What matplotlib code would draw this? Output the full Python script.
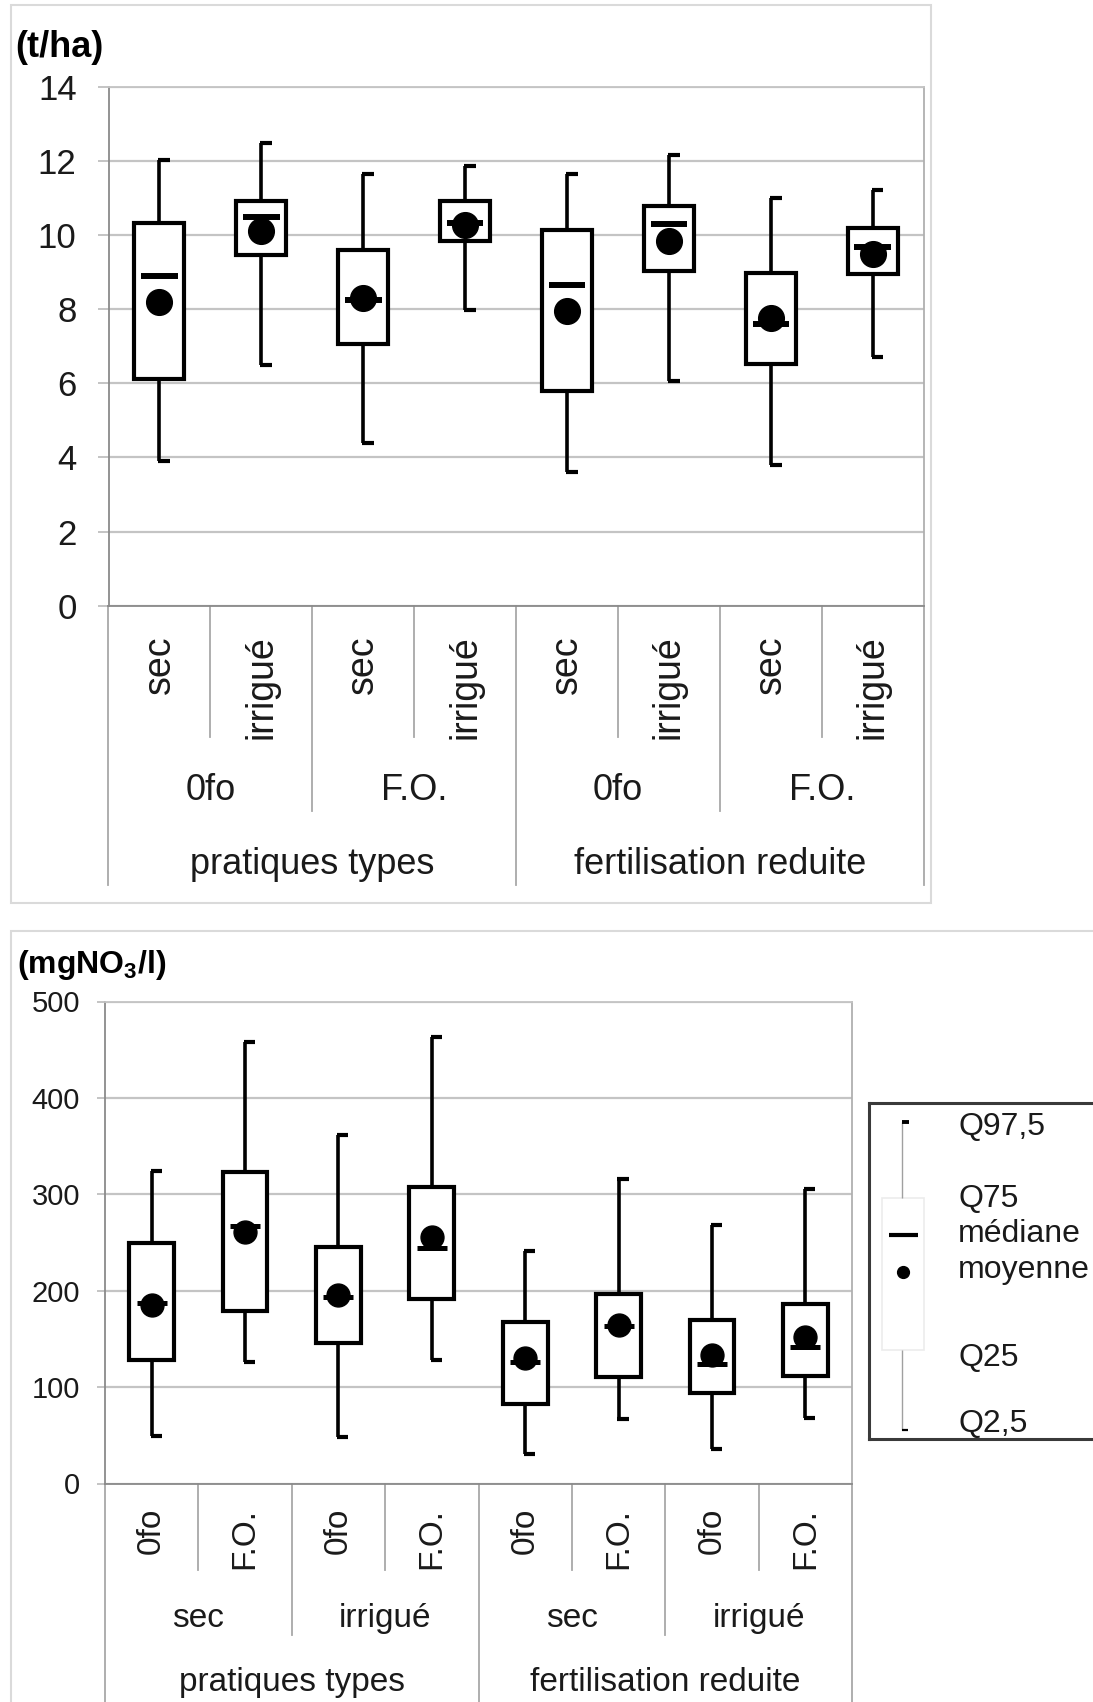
import matplotlib
matplotlib.use("Agg")
import matplotlib.pyplot as plt
from matplotlib import transforms
from matplotlib.patches import Rectangle

plt.rcParams['font.family'] = ['Liberation Sans', 'DejaVu Sans']
plt.rcParams['mathtext.default'] = 'regular'

# ---------------- data: yield (t/ha) ----------------
top_lvl1 = ["sec", "irrigué", "sec", "irrigué", "sec", "irrigué", "sec", "irrigué"]
top_lvl2 = ["0fo", "F.O.", "0fo", "F.O."]
top_lvl3 = ["pratiques types", "fertilisation reduite"]
top_q975 = [12.03, 12.48, 11.65, 11.87, 11.64, 12.15, 11.01, 11.22]
top_q75 = [10.32, 10.91, 9.59, 10.93, 10.13, 10.79, 8.97, 10.19]
top_med = [8.90, 10.48, 8.25, 10.33, 8.66, 10.29, 7.60, 9.68]
top_mean = [8.19, 10.10, 8.31, 10.27, 7.96, 9.84, 7.77, 9.49]
top_q25 = [6.12, 9.46, 7.06, 9.83, 5.79, 9.04, 6.52, 8.95]
top_q025 = [3.90, 6.50, 4.38, 7.97, 3.61, 6.05, 3.79, 6.71]
top_yticks = [0, 2, 4, 6, 8, 10, 12, 14]

# ---------------- data: nitrate (mgNO3/l) ----------------
bot_lvl1 = ["0fo", "F.O.", "0fo", "F.O.", "0fo", "F.O.", "0fo", "F.O."]
bot_lvl2 = ["sec", "irrigué", "sec", "irrigué"]
bot_lvl3 = ["pratiques types", "fertilisation reduite"]
bot_q975 = [324, 458, 362, 463, 241, 316, 268, 306]
bot_q75 = [249, 323, 245, 308, 168, 197, 170, 186]
bot_med = [187, 267, 193, 244, 126, 163, 124, 142]
bot_mean = [185, 261, 196, 256, 130, 164, 133, 152]
bot_q25 = [128, 179, 146, 191, 82, 110, 94, 111]
bot_q025 = [49, 126, 48, 128, 31, 67, 36, 68]
bot_yticks = [0, 100, 200, 300, 400, 500]

legend_labels = ["Q97,5", "Q75", "médiane", "moyenne", "Q25", "Q2,5"]

W, H = 1093, 1702
fig = plt.figure(figsize=(W / 100, H / 100), dpi=100)
fig.patch.set_facecolor("white")


def fx(px):
    return px / W


def fy(py):
    return 1 - py / H


GRID = "#c4c4c4"
AXC = "#8a8a8a"
SEP = "#a8a8a8"

# outer light frames
fig.add_artist(Rectangle((fx(11), fy(903)), fx(931) - fx(11), fy(5) - fy(903),
                         transform=fig.transFigure, fill=False, ec="#dadada", lw=1.5))
fig.add_artist(Rectangle((fx(11), fy(1720)), fx(1110) - fx(11), fy(931) - fy(1720),
                         transform=fig.transFigure, fill=False, ec="#dadada", lw=1.5))


def draw_panel(ax, q975, q75, med, mean, q25, q025, yticks, boxw, medw, capw,
               ms, medlw, tickfs, ticklen, tickpad):
    n = len(q75)
    xs = list(range(n))
    ax.set_xlim(-0.5, n - 0.5)
    ax.set_ylim(yticks[0], yticks[-1])
    ax.set_yticks(yticks)
    ax.set_xticks([])
    ax.yaxis.grid(True, color=GRID, lw=1.6)
    ax.set_axisbelow(True)
    for s in ax.spines.values():
        s.set_color(AXC)
        s.set_linewidth(1.3)
    ax.spines['top'].set_color(GRID)
    ax.spines['right'].set_color("#b0b0b0")
    ax.tick_params(axis='y', direction='out', length=ticklen, width=1.4,
                   color=GRID, labelsize=tickfs, pad=tickpad, labelcolor="#1a1a1a")
    for i in xs:
        ax.add_patch(Rectangle((i - boxw / 2, q25[i]), boxw, q75[i] - q25[i],
                               fill=True, fc="white", ec="black", lw=3.0, zorder=3))
        ax.vlines(i, q75[i], q975[i], color="black", lw=2.6, zorder=2)
        ax.vlines(i, q025[i], q25[i], color="black", lw=2.6, zorder=2)
        ax.hlines([q975[i], q025[i]], i - 0.012, i + capw, color="black", lw=3.0, zorder=2)
    ax.plot(xs, mean, 'o', color="black", ms=ms, mec="black", zorder=4, ls='none')
    ax.hlines(med, [x - medw / 2 for x in xs], [x + medw / 2 for x in xs],
              color="black", lw=medlw, zorder=5)


def draw_categories(ax, lvl1, lvl2, lvl3, y_lvl1_top, y_inner, y_group, y_outer,
                    y_lvl2_base, y_lvl3_base, fs1, fs2):
    tr = transforms.blended_transform_factory(ax.transData, fig.transFigure)
    n = len(lvl1)
    y_axis = ax.get_position().y0
    for i, lab in enumerate(lvl1):
        ax.text(i, fy(y_lvl1_top), lab, transform=tr, rotation=90, ha='center', va='top',
                fontsize=fs1, color="#1a1a1a")
    for j, lab in enumerate(lvl2):
        ax.text(2 * j + 0.5, fy(y_lvl2_base), lab, transform=tr, ha='center', va='baseline',
                fontsize=fs2, color="#1a1a1a")
    for k, lab in enumerate(lvl3):
        ax.text(4 * k + 1.5, fy(y_lvl3_base), lab, transform=tr, ha='center', va='baseline',
                fontsize=fs2, color="#1a1a1a")
    for b in range(n + 1):
        x = b - 0.5
        if b % 4 == 0:
            yb = y_outer
        elif b % 2 == 0:
            yb = y_group
        else:
            yb = y_inner
        ax.plot([x, x], [y_axis, fy(yb)], transform=tr, color=SEP, lw=1.3, clip_on=False)


# ---------------- top panel ----------------
ax1 = fig.add_axes([fx(108.5), fy(605.7), fx(923.7) - fx(108.5), (605.7 - 86.8) / H])
draw_panel(ax1, top_q975, top_q75, top_med, top_mean, top_q25, top_q025, top_yticks,
           boxw=0.49, medw=0.36, capw=0.105, ms=18.5, medlw=4.3, tickfs=25,
           ticklen=8, tickpad=15)
draw_categories(ax1, top_lvl1, top_lvl2, top_lvl3, 635, 737, 811, 885, 800, 874, 27, 26)
fig.text(fx(15), fy(57), "(t/ha)", fontsize=26, fontweight='bold', ha='left', va='baseline')

# ---------------- bottom panel ----------------
ax2 = fig.add_axes([fx(105), fy(1483.5), fx(852) - fx(105), (1483.5 - 1001.5) / H])
draw_panel(ax2, bot_q975, bot_q75, bot_med, bot_mean, bot_q25, bot_q025, bot_yticks,
           boxw=0.48, medw=0.32, capw=0.107, ms=16.5, medlw=3.6, tickfs=21,
           ticklen=6, tickpad=12)
draw_categories(ax2, bot_lvl1, bot_lvl2, bot_lvl3, 1508, 1570, 1635, 1710, 1627, 1691, 24, 24)
fig.text(fx(17), fy(973), "(mgNO$_{3}$/l)", fontsize=23, fontweight='bold', ha='left',
         va='baseline')

# ---------------- legend (key) ----------------
lx0, lx1, ly0, ly1 = 869, 1110, 1103, 1439
lax = fig.add_axes([fx(lx0), fy(ly1), (lx1 - lx0) / W, (ly1 - ly0) / H])
lax.set_xlim(lx0, lx1)
lax.set_ylim(ly1, ly0)
lax.set_xticks([])
lax.set_yticks([])
for s in lax.spines.values():
    s.set_color("#3a3a3a")
    s.set_linewidth(2.2)
lax.add_patch(Rectangle((882, 1198), 42, 152, fill=False, ec="#ececec", lw=1.2))
lax.vlines(902, 1122, 1198, color="#a0a0a0", lw=1.0)
lax.vlines(902, 1350, 1430, color="#a0a0a0", lw=1.0)
lax.hlines(1122, 902, 909, color="black", lw=2.8)
lax.hlines(1430, 902, 908, color="black", lw=1.6)
lax.hlines(1235, 889, 918, color="black", lw=3.0)
lax.plot([903], [1272], 'o', color="black", ms=8.5)
leg_base = [1135, 1207, 1242, 1278, 1366, 1432]
for lab, yb in zip(legend_labels, leg_base):
    lax.text(958, yb, lab, fontsize=23, ha='left', va='baseline', color="#1a1a1a")

fig.savefig("out.png", dpi=100, facecolor="white")
